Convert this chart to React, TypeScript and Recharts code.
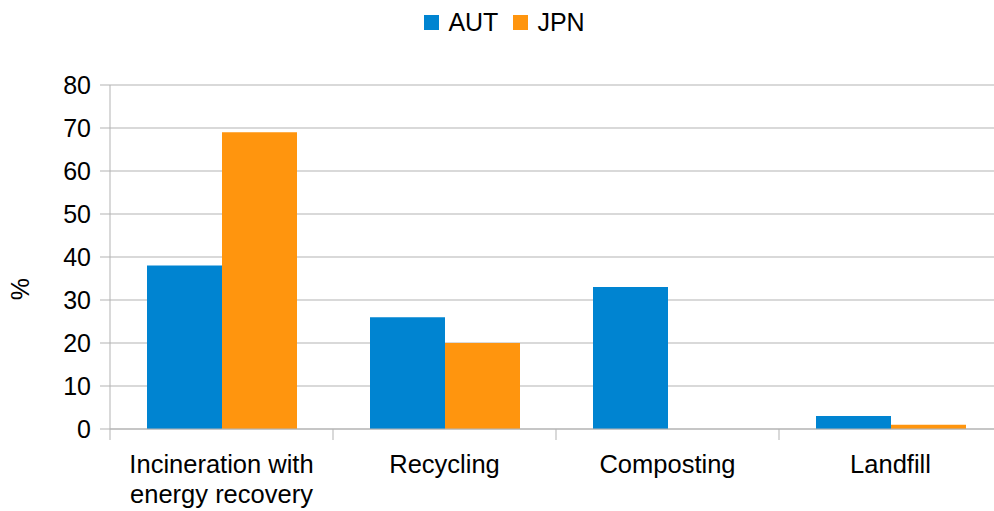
import React from 'react';
import { BarChart, Bar, XAxis, YAxis, CartesianGrid, Legend } from 'recharts';

// Share of waste by treatment route, in percent
const categories = ['Incineration with energy recovery', 'Recycling', 'Composting', 'Landfill'];
const categoryLines = [['Incineration with', 'energy recovery'], ['Recycling'], ['Composting'], ['Landfill']];
const autValues = [38, 26, 33, 3];
const jpnValues = [69, 20, 0, 1];
const yTicks = [0, 10, 20, 30, 40, 50, 60, 70, 80];

const seriesNames = ['AUT', 'JPN'];
const seriesColors = ['#0084d1', '#ff950e'];

const data = categories.map((c, i) => ({ category: c, AUT: autValues[i], JPN: jpnValues[i] }));

const FONT = '"Liberation Sans", Arial, sans-serif';
const GRID = '#b3b3b3';
const CHART_W = 1010;
const CHART_H = 511;
const MARGIN = { top: 45, right: 8, left: 0, bottom: 0 };
const Y_AXIS_W = 110;
const BAND = (CHART_W - Y_AXIS_W - MARGIN.left - MARGIN.right) / categories.length;

const CategoryTick = (props: any) => {
  const { x, y, index } = props;
  const lines = categoryLines[index] || [];
  const left = x - BAND / 2;
  return (
    <g>
      <line x1={left} y1={y} x2={left} y2={y + 11} stroke={GRID} strokeWidth={1} />
      <text x={x} y={y + 44} textAnchor="middle" fontSize={25.5} fontFamily={FONT} fill="#000">
        {lines.map((l, i) => (
          <tspan key={i} x={x} dy={i === 0 ? 0 : 30}>
            {l}
          </tspan>
        ))}
      </text>
    </g>
  );
};

const LegendContent = () => (
  <div
    style={{
      display: 'flex',
      justifyContent: 'center',
      alignItems: 'center',
      fontFamily: FONT,
      fontSize: 25,
      color: '#000',
      height: 40,
      marginLeft: 7,
    }}
  >
    {seriesNames.map((n, i) => (
      <div key={n} style={{ display: 'flex', alignItems: 'center', marginRight: i === 0 ? 15 : 0 }}>
        <span style={{ display: 'inline-block', width: 15, height: 15, background: seriesColors[i], marginRight: 9 }} />
        <span style={{ lineHeight: '25px' }}>{n}</span>
      </div>
    ))}
  </div>
);

const PercentLabel = () => (
  <text
    x={20}
    y={289}
    transform="rotate(-90 20 289)"
    textAnchor="middle"
    dominantBaseline="central"
    fontSize={25}
    fontFamily={FONT}
    fill="#000"
  >
    %
  </text>
);

export default function App() {
  return (
    <div style={{ position: 'absolute', left: 0, top: 0, width: 994, height: 511, overflow: 'hidden', background: '#fff' }}>
      <BarChart width={CHART_W} height={CHART_H} data={data} margin={MARGIN} barCategoryGap={37} barGap={0}>
        <Legend verticalAlign="top" align="center" height={40} content={<LegendContent />} wrapperStyle={{ top: 2 }} />
        <CartesianGrid vertical={false} stroke={GRID} strokeWidth={1} />
        <XAxis
          dataKey="category"
          height={82}
          interval={0}
          axisLine={{ stroke: GRID, strokeWidth: 1 }}
          tickLine={false}
          tickSize={0}
          tickMargin={0}
          tick={<CategoryTick />}
        />
        <YAxis
          width={Y_AXIS_W}
          domain={[0, 80]}
          ticks={yTicks}
          interval={0}
          axisLine={{ stroke: GRID, strokeWidth: 1 }}
          tickLine={{ stroke: GRID, strokeWidth: 1 }}
          tickSize={10}
          tickMargin={9}
          tick={{ fontSize: 25, fontFamily: FONT, fill: '#000' }}
          label={<PercentLabel />}
        />
        <Bar dataKey="AUT" fill={seriesColors[0]} isAnimationActive={false} />
        <Bar dataKey="JPN" fill={seriesColors[1]} isAnimationActive={false} />
      </BarChart>
    </div>
  );
}
